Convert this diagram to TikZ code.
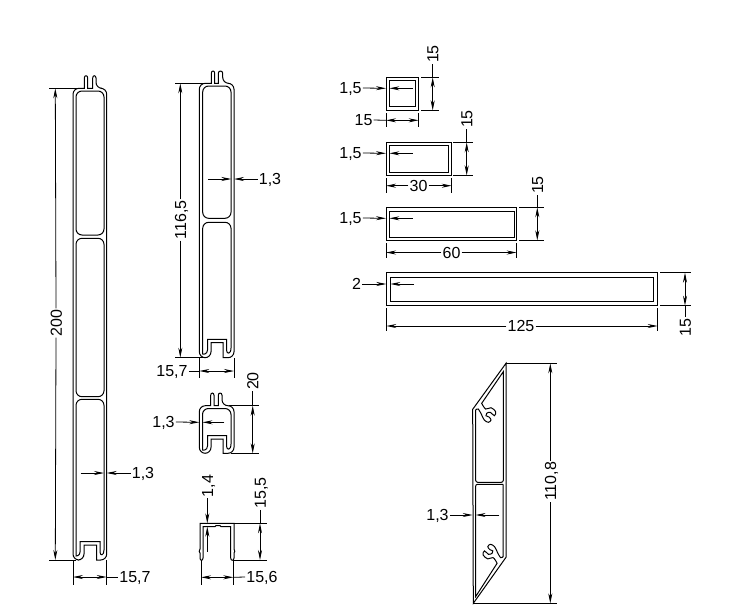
\documentclass[tikz,border=0pt]{standalone}
\usepackage{fontspec}
\setmainfont{Liberation Sans}
\usetikzlibrary{arrows.meta}

\tikzset{
  profile/.style={line width=1pt},
  dimline/.style={line width=0.8pt},
  extline/.style={line width=0.8pt},
  dimtext/.style={font=\fontsize{16}{17}\selectfont,inner sep=1pt,text height=11.5pt,text depth=0pt}
}

\begin{document}
\begin{tikzpicture}[x=1pt,y=-1pt,>={Stealth[length=10pt,width=4pt]}]
  \useasboundingbox (0,0) rectangle (737,614);

  % labels
  \node[dimtext,rotate=90] (l200)  at (56,323)    {200};
  \node[dimtext]           (l157a) at (135,577)   {15,7};
  \node[dimtext]           (l13a)  at (143,473)   {1,3};
  \node[dimtext,rotate=90] (l1165) at (180.3,220) {116,5};
  \node[dimtext]           (l13b)  at (270,179)   {1,3};
  \node[dimtext]           (l157b) at (172,371)   {15,7};
  \node[dimtext,rotate=90] (l20)   at (252.7,381) {20};
  \node[dimtext]           (l13c)  at (163.5,422) {1,3};
  \node[dimtext,rotate=90] (l14)   at (207.3,486) {1,4};
  \node[dimtext,rotate=90] (l155)  at (260,493)   {15,5};
  \node[dimtext]           (l156)  at (262,577)   {15,6};

  \node[dimtext]           (l15a)  at (350.5,88)  {1,5};
  \node[dimtext,rotate=90] (l15b)  at (432.7,54)  {15};
  \node[dimtext]           (l15c)  at (363.5,120) {15};
  \node[dimtext]           (l15d)  at (350.5,153) {1,5};
  \node[dimtext,rotate=90] (l15e)  at (466.7,119) {15};
  \node[dimtext]           (l30)   at (418.5,185.7) {30};
  \node[dimtext]           (l15f)  at (350.5,218) {1,5};
  \node[dimtext,rotate=90] (l15g)  at (537.3,185) {15};
  \node[dimtext]           (l60)   at (451.5,252.5) {60};
  \node[dimtext]           (l2)    at (356.5,284) {2};
  \node[dimtext,rotate=90] (l15h)  at (685,327.5) {15};
  \node[dimtext]           (l125)  at (521,326)   {125};
  \node[dimtext,rotate=90] (l1108) at (550.3,481.5) {110,8};
  \node[dimtext]           (l13d)  at (437.5,515) {1,3};

  % long profile
  \draw[profile] (84,560) -- (84,545) -- (96.7,545) -- (96.7,560) [rounded corners=6pt] -- (106.7,560) -- (106.7,88.3) -- (96,88.3)
    [sharp corners] -- (96,78) .. controls (96,75) and (92.7,75) .. (92.7,78) -- (92.7,88.3) -- (87.7,88.3) -- (87.7,78) .. controls (87.7,75) and (84.3,75) .. (84.3,78) -- (84.3,88.3)
    [rounded corners=6pt] -- (73,88.3) -- (73,560) -- cycle;
  \draw[profile,rounded corners=6pt] (76,91) rectangle (104,235);
  \draw[profile,rounded corners=6pt] (76,238.3) rectangle (104,396.7);
  \draw[profile] (80,552) -- (80,541.7) -- (100,541.7) -- (100,552) .. controls (100,556) and (104,556) .. (104,550)
    [rounded corners=6pt] -- (104,399.3) -- (76,399.3) -- (76,550)
    [sharp corners] .. controls (76,556) and (80,556) .. (80,552);

  \draw[extline] (49,88.3) -- (84,88.3);
  \draw[extline] (49,560) -- (76,560);
  \draw[dimline,->] (l200.east) -- (55.3,88.3);
  \draw[dimline,->] (l200.west) -- (55.3,560);
  \draw[extline] (73,560) -- (73,585);
  \draw[extline] (106.7,560) -- (106.7,585);
  \draw[dimline,<->] (73,577) -- (106.7,577);
  \draw[dimline] (106.7,577) -- (l157a.west);
  \draw[dimline,->] (80.7,473) -- (104,473);
  \draw[dimline,->] (l13a.west) -- (106.7,473);

  % middle profile
  \draw[profile] (211,357.7) -- (211,342.7) -- (223,342.7) -- (223,357.7) [rounded corners=6pt] -- (234,357.7) -- (234,83.3) -- (222.7,83.3)
    [sharp corners] -- (222.7,73.3) .. controls (222.7,70.3) and (218.3,70.3) .. (218.3,73.3) -- (218.3,83.3) -- (214.7,83.3) -- (214.7,73.3) .. controls (214.7,70.3) and (211.3,70.3) .. (211.3,73.3) -- (211.3,83.3)
    [rounded corners=6pt] -- (199.3,83.3) -- (199.3,357.7) -- cycle;
  \draw[profile,rounded corners=6pt] (202.7,86) rectangle (231,218.3);
  \draw[profile] (207.5,350) -- (207.5,339.3) -- (226.5,339.3) -- (226.5,350) .. controls (226.5,354.5) and (231,354.5) .. (231,348)
    [rounded corners=6pt] -- (231,222.3) -- (202.7,222.3) -- (202.7,348)
    [sharp corners] .. controls (202.7,354.5) and (207.5,354.5) .. (207.5,350);

  \draw[extline] (175,83.3) -- (211,83.3);
  \draw[extline,line width=1.4pt] (175,357.7) -- (204,357.7);
  \draw[dimline,->] (l1165.east) -- (180.3,83.3);
  \draw[dimline,->] (l1165.west) -- (180.3,357.7);
  \draw[extline] (199.3,358) -- (199.3,378);
  \draw[extline] (234,358) -- (234,378);
  \draw[dimline,<->] (199.3,371) -- (234,371);
  \draw[dimline] (l157b.east) -- (199.3,371);
  \draw[dimline,->] (208.3,179) -- (231.3,179);
  \draw[dimline,->] (l13b.west) -- (234,179);

  % short profile
  \draw[profile] (211,453.3) -- (211,439) -- (223,439) -- (223,453.3) [rounded corners=6pt] -- (234,453.3) -- (234,405.7) -- (222,405.7)
    [sharp corners] -- (222,395.3) .. controls (222,392.3) and (218.3,392.3) .. (218.3,395.3) -- (218.3,405.7) -- (214,405.7) -- (214,395.3) .. controls (214,392.3) and (210.7,392.3) .. (210.7,395.3) -- (210.7,405.7)
    [rounded corners=6pt] -- (199.3,405.7) -- (199.3,453.3) -- cycle;
  \draw[profile] (207.5,446) -- (207.5,435.7) -- (226.5,435.7) -- (226.5,446) .. controls (226.5,450.5) and (231,450.5) .. (231,444)
    [rounded corners=6pt] -- (231,408.5) -- (202.5,408.5) -- (202.5,444)
    [sharp corners] .. controls (202.5,450.5) and (207.5,450.5) .. (207.5,446);

  \draw[extline] (229,405.7) -- (259.3,405.7);
  \draw[extline] (231,453.3) -- (259.3,453.3);
  \draw[dimline] (l20.west) -- (252.7,405.7);
  \draw[dimline,<->] (252.7,405.7) -- (252.7,453.3);
  \draw[dimline,->] (l13c.east) -- (199.3,422.3);
  \draw[dimline,->] (224.3,422.3) -- (202.5,422.3);

  % channel
  \draw[profile] (200,523.3) -- (234,523.3) -- (234,549) -- (234.8,551.5) -- (234,553) -- (234,558)
    .. controls (234,561) and (230.7,561) .. (230.7,558) -- (230.7,526.7) -- (221,526.7) -- (220,525.5) -- (216,525.5) -- (215,526.7) -- (203,526.7) -- (203,558)
    .. controls (203,561) and (200,561) .. (200,558) -- (200,553) -- (199.2,551.5) -- (200,549) -- cycle;

  \draw[dimline,->] (l14.west) -- (207.3,523.3);
  \draw[dimline,->] (207.3,551.7) -- (207.3,526.7);
  \draw[extline] (234,523.3) -- (266.7,523.3);
  \draw[extline] (234,560) -- (266.7,560);
  \draw[dimline] (l155.west) -- (260,523.3);
  \draw[dimline,<->] (260,523.3) -- (260,560);
  \draw[extline] (201,560) -- (201,585);
  \draw[extline] (233.3,560) -- (233.3,585);
  \draw[dimline,<->] (201,577.3) -- (233.3,577.3);
  \draw[dimline] (233.3,577.3) -- (l156.west);

  % square tube
  \draw[profile] (386,77.3) rectangle (418.7,110.3);
  \draw[profile] (389.3,80.3) rectangle (415.7,106.7);
  \draw[dimline,->] (l15a.east) -- (386,88.3);
  \draw[dimline,->] (412.7,88.3) -- (389.3,88.3);
  \draw[extline] (421,77.3) -- (439,77.3);
  \draw[extline] (421,110.3) -- (439,110.3);
  \draw[dimline] (l15b.west) -- (432.7,77.3);
  \draw[dimline,<->] (432.7,77.3) -- (432.7,110.3);
  \draw[extline] (386,113.3) -- (386,126.7);
  \draw[extline] (418.7,113.3) -- (418.7,126.7);
  \draw[dimline,<->] (386,120.3) -- (418.7,120.3);
  \draw[dimline] (l15c.east) -- (386,120.3);

  % tube 30
  \draw[profile] (386,142.3) rectangle (451.7,175.3);
  \draw[profile] (389.3,145.3) rectangle (448.3,172);
  \draw[dimline,->] (l15d.east) -- (386,153.3);
  \draw[dimline,->] (412.7,153.3) -- (389.3,153.3);
  \draw[extline] (453.3,142.3) -- (472.7,142.3);
  \draw[extline] (453.3,175.3) -- (472.7,175.3);
  \draw[dimline] (l15e.west) -- (466.7,142.3);
  \draw[dimline,<->] (466.7,142.3) -- (466.7,175.3);
  \draw[extline] (386,178.3) -- (386,192.7);
  \draw[extline] (451.7,178.3) -- (451.7,192.7);
  \draw[dimline,->] (l30.west) -- (386,185.7);
  \draw[dimline,->] (l30.east) -- (451.7,185.7);

  % tube 60
  \draw[profile] (386,207.3) rectangle (516.7,240.3);
  \draw[profile] (389.3,211.3) rectangle (514,237.3);
  \draw[dimline,->] (l15f.east) -- (386,218.3);
  \draw[dimline,->] (412.7,218.3) -- (389.3,218.3);
  \draw[extline] (519.3,207.3) -- (544,207.3);
  \draw[extline] (519.3,240.3) -- (544,240.3);
  \draw[dimline] (l15g.west) -- (537.3,207.3);
  \draw[dimline,<->] (537.3,207.3) -- (537.3,240.3);
  \draw[extline] (386,243.3) -- (386,258.3);
  \draw[extline] (516.7,243.3) -- (516.7,258.3);
  \draw[dimline,->] (l60.west) -- (386,252.5);
  \draw[dimline,->] (l60.east) -- (516.7,252.5);

  % tube 125
  \draw[profile] (386.3,272.7) rectangle (657.7,305.7);
  \draw[profile] (390.3,277.3) rectangle (653.7,301.7);
  \draw[dimline,->] (l2.east) -- (386.3,284);
  \draw[dimline,->] (414,284) -- (390.3,284);
  \draw[extline] (660,272.7) -- (690.7,272.7);
  \draw[extline] (660,305.7) -- (690.7,305.7);
  \draw[dimline,<->] (685,272.7) -- (685,305.7);
  \draw[dimline] (685,305.7) -- (l15h.east);
  \draw[extline] (386.3,308.3) -- (386.3,331);
  \draw[extline] (657.7,308.3) -- (657.7,331);
  \draw[dimline,->] (l125.west) -- (386.3,326);
  \draw[dimline,->] (l125.east) -- (657.7,326);

  % slanted profile
  \draw[profile] (506,363.3) -- (506,557.3) -- (473.3,603.3) -- (472.7,409.3) -- cycle;
  \draw[profile] (503.3,371.7) -- (481.7,403.3) -- plot[smooth,tension=.6] coordinates {(481.7,403.3) (485.7,409) (491,407.7) (495.7,411.7) (494.3,415.7) (490.3,412.3) (486.7,413.3) (486,415.7) (489,417) (491,420) (488.3,422.3) (484.3,420) (481.7,415) (478.3,409) (475.7,410)}
    [rounded corners=2pt] -- (475.7,482.3) -- (503.3,482.3) [sharp corners] -- cycle;
  \draw[profile] (503.2,484.3) -- (503.2,556.6) -- plot[smooth,tension=.6] coordinates {(503.1,556.6) (500.5,557.6) (497.1,551.6) (494.5,546.6) (490.5,544.3) (487.8,546.6) (489.8,549.6) (492.8,550.9) (492.1,553.3) (488.5,554.3) (484.5,550.9) (483.1,554.9) (487.8,558.9) (493.1,557.6) (497.1,563.3)}
    -- (475.6,596.7) [rounded corners=2pt] -- (475.6,484.3) -- (503.2,484.3);

  \draw[extline] (506,363.3) -- (556.7,363.3);
  \draw[extline] (473.3,603.3) -- (556.7,603.3);
  \draw[dimline,->] (l1108.east) -- (550.3,363.3);
  \draw[dimline,->] (l1108.west) -- (550.3,603.3);
  \draw[dimline,->] (l13d.east) -- (472.7,515);
  \draw[dimline,->] (499.3,515) -- (475.6,515);
\end{tikzpicture}
\end{document}
